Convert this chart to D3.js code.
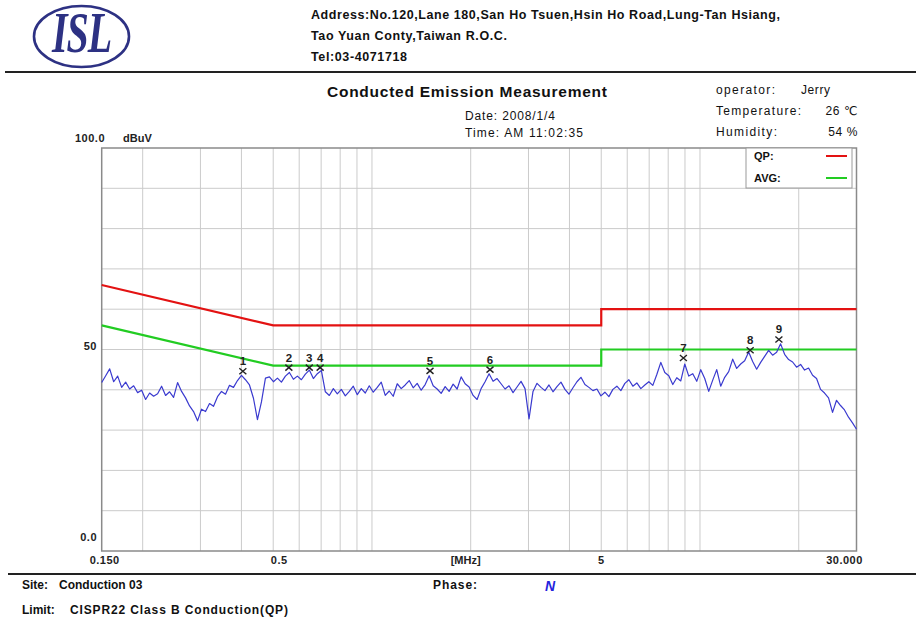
<!DOCTYPE html>
<html>
<head>
<meta charset="utf-8">
<script src="https://cdn.jsdelivr.net/npm/d3@7"></script>
<style>
  html, body { margin: 0; padding: 0; background: #fff; }
  svg { display: block; }
  text { font-family: "Liberation Sans", Arial, "DejaVu Sans", sans-serif; fill: #111; }
</style>
</head>
<body>
<svg id="chart" width="916" height="621"></svg>
<script>
// ---------------- DATA ----------------
const addressLines = [
  "Address:No.120,Lane 180,San Ho Tsuen,Hsin Ho Road,Lung-Tan Hsiang,",
  "Tao Yuan Conty,Taiwan R.O.C.",
  "Tel:03-4071718"
];
const chartTitle = "Conducted Emission Measurement";
const dateText = "Date: 2008/1/4";
const timeText = "Time: AM 11:02:35";
const infoLabels = ["operator:", "Temperature:", "Humidity:"];
const infoValues = ["Jerry", "26 \u2103", "54 %"];

const freqDomain = [0.15, 30];          // MHz
const levelDomain = [0, 100];           // dBuV
const xGridFreqs = [0.2,0.3,0.4,0.5,0.6,0.7,0.8,0.9,1,2,3,4,5,6,7,8,9,10,20];
const yGridLevels = [10,20,30,40,50,60,70,80,90];
const xTickLabels = ["0.150", "0.5", "5", "30.000"];
const xTickValues = [0.15, 0.5, 5, 30];
const yTickLabels = ["100.0", "50", "0.0"];
const yTickValues = [100, 50, 0];

// CISPR22 Class B limits (breakpoints)
const qpLimitFreq  = [0.15, 0.5, 5, 5, 30];
const qpLimitLevel = [66, 56, 56, 60, 60];
const avgLimitFreq  = [0.15, 0.5, 5, 5, 30];
const avgLimitLevel = [56, 46, 46, 50, 50];

// measured trace: 190 sweep points, log-spaced from 0.15 to 30 MHz
const traceLevels = [
  41.8,43.5,45.2,42.0,43.4,40.6,41.9,40.2,41.0,39.3,
  39.9,37.6,39.2,38.4,39.0,40.9,38.6,39.5,38.1,41.8,
  39.6,38.0,36.0,34.6,32.3,35.2,34.6,36.6,35.9,38.3,
  39.6,38.9,41.1,40.6,42.3,43.6,42.5,41.2,37.9,32.6,
  37.0,42.9,43.2,42.0,42.9,41.9,43.4,44.3,42.6,43.4,
  42.5,43.9,44.9,42.8,44.0,44.8,39.5,38.6,40.3,39.0,
  40.1,38.5,39.6,40.9,38.8,40.3,39.2,41.0,39.4,40.6,
  41.9,38.6,39.7,38.4,41.5,40.3,41.2,42.3,40.5,41.6,
  39.9,41.3,43.5,41.0,40.2,39.1,40.8,39.6,41.4,40.2,
  43.2,41.5,40.7,38.6,37.6,40.3,42.0,44.0,42.1,42.8,
  41.5,40.2,41.0,39.3,40.7,42.1,40.3,32.8,39.6,41.6,
  40.6,39.8,41.2,39.5,40.8,41.9,40.1,38.9,40.5,42.0,
  43.1,41.3,40.6,39.8,40.2,38.5,39.4,38.3,40.1,40.9,
  39.8,41.6,42.5,40.9,41.7,40.3,41.2,42.0,41.1,43.8,
  46.8,44.3,43.5,41.3,43.0,42.2,46.4,43.4,44.0,42.1,
  45.0,42.8,39.6,42.4,45.0,40.9,43.1,44.5,47.6,45.3,
  46.4,47.2,49.4,47.0,45.1,46.8,48.3,49.8,48.6,49.3,
  51.4,48.8,47.5,46.9,45.6,46.3,44.9,45.4,43.6,42.8,
  40.1,39.2,38.0,34.4,37.4,36.1,35.0,33.2,31.8,30.2
];

const markerIds    = ["1","2","3","4","5","6","7","8","9"];
const markerFreqs  = [0.404, 0.558, 0.644, 0.695, 1.503, 2.29, 8.90, 14.22, 17.4];
const markerLevels = [44.6, 45.5, 45.5, 45.5, 44.7, 45.0, 47.9, 49.8, 52.5];

const legendLabels = ["QP:", "AVG:"];
const siteText = "Conduction 03";
const phaseText = "N";
const limitText = "CISPR22 Class B Conduction(QP)";

// ---------------- DRAW ----------------
const svg = d3.select("#chart");
const plot = { left: 101.7, right: 856.5, top: 148, bottom: 551 };

const x = d3.scaleLog().domain(freqDomain).range([plot.left, plot.right]);
const y = d3.scaleLinear().domain(levelDomain).range([plot.bottom, plot.top]);

const navy = "#2d3183";

function fitText(sel, len) {
  sel.attr("textLength", len).attr("lengthAdjust", "spacing");
  return sel;
}

// Logo
const logo = svg.append("g");
logo.append("ellipse").attr("cx", 81.5).attr("cy", 36.5).attr("rx", 47.5).attr("ry", 30.5)
  .attr("fill", "none").attr("stroke", navy).attr("stroke-width", 2.6);
logo.append("text")
  .attr("transform", "translate(81.5,52) scale(1,1.45)")
  .attr("text-anchor", "middle")
  .style("font-family", "'Liberation Serif', 'DejaVu Serif', serif")
  .style("font-weight", "bold").style("font-style", "italic")
  .style("font-size", "40px").style("letter-spacing", "-1px")
  .style("fill", navy)
  .text("ISL");

// Address
const addrLens = [469, 196, 96];
svg.append("g").selectAll("text").data(addressLines).join("text")
  .attr("x", 311).attr("y", (d, i) => 19 + i * 21)
  .style("font-weight", "bold").style("font-size", "12.5px")
  .attr("textLength", (d, i) => addrLens[i]).attr("lengthAdjust", "spacing")
  .text(d => d);

// Horizontal rules
svg.append("line").attr("x1", 5).attr("x2", 916).attr("y1", 72).attr("y2", 72)
  .attr("stroke", "#222").attr("stroke-width", 2);
svg.append("line").attr("x1", 8).attr("x2", 916).attr("y1", 574).attr("y2", 574)
  .attr("stroke", "#222").attr("stroke-width", 2);

// Title & info
fitText(svg.append("text").attr("x", 327).attr("y", 97)
  .style("font-weight", "bold").style("font-size", "15.5px").text(chartTitle), 280);
fitText(svg.append("text").attr("x", 465).attr("y", 120).style("font-size", "12px").text(dateText), 90);
fitText(svg.append("text").attr("x", 465).attr("y", 137).style("font-size", "12px").text(timeText), 118);

const infoLabLens = [59, 85, 61];
const infoG = svg.append("g");
infoG.selectAll("text.lab").data(infoLabels).join("text").attr("class", "lab")
  .attr("x", 716).attr("y", (d, i) => 94 + i * 21)
  .style("font-size", "12px")
  .attr("textLength", (d, i) => infoLabLens[i]).attr("lengthAdjust", "spacing")
  .text(d => d);
infoG.selectAll("text.val").data(infoValues).join("text").attr("class", "val")
  .attr("x", (d, i) => i === 0 ? 801 : 858)
  .attr("text-anchor", (d, i) => i === 0 ? "start" : "end")
  .attr("y", (d, i) => 94 + i * 21)
  .style("font-size", "12px").style("letter-spacing", "0.6px").text(d => d);

// Grid
const grid = svg.append("g");
grid.selectAll("line.gx").data(xGridFreqs).join("line").attr("class", "gx")
  .attr("x1", d => x(d)).attr("x2", d => x(d))
  .attr("y1", plot.top).attr("y2", plot.bottom)
  .attr("stroke", "#cbcbcb").attr("stroke-width", 1);
grid.selectAll("line.gy").data(yGridLevels).join("line").attr("class", "gy")
  .attr("x1", plot.left).attr("x2", plot.right)
  .attr("y1", d => y(d)).attr("y2", d => y(d))
  .attr("stroke", "#cbcbcb").attr("stroke-width", 1);

// Border
svg.append("rect").attr("x", plot.left).attr("y", plot.top)
  .attr("width", plot.right - plot.left).attr("height", plot.bottom - plot.top)
  .attr("fill", "none").attr("stroke", "#8a8a8a").attr("stroke-width", 1.5);

// Axis labels
svg.append("g").selectAll("text").data(yTickValues).join("text")
  .attr("x", (d, i) => i === 0 ? 105 : 97)
  .attr("y", (d, i) => i === 0 ? y(d) - 6 : (i === 1 ? y(d) : y(d) - 10))
  .attr("text-anchor", "end")
  .style("font-weight", "bold").style("font-size", "11px").style("fill", "#222")
  .style("letter-spacing", "0.5px")
  .text((d, i) => yTickLabels[i]);
svg.append("text").attr("x", 123).attr("y", y(100) - 6)
  .style("font-weight", "bold").style("font-size", "11px").style("fill", "#222").text("dBuV");

const xLabDx = [3, 6, 0, -12];
svg.append("g").selectAll("text").data(xTickValues).join("text")
  .attr("x", (d, i) => x(d) + xLabDx[i])
  .attr("y", 564).attr("text-anchor", "middle")
  .style("font-weight", "bold").style("font-size", "11px").style("fill", "#222")
  .style("letter-spacing", "0.5px")
  .text((d, i) => xTickLabels[i]);
svg.append("text").attr("x", x(1.93)).attr("y", 564).attr("text-anchor", "middle")
  .style("font-weight", "bold").style("font-size", "11px").style("fill", "#222").text("[MHz]");

// Limit lines
const line = d3.line().x(d => x(d[0])).y(d => y(d[1]));
svg.append("path").datum(qpLimitFreq.map((f, i) => [f, qpLimitLevel[i]]))
  .attr("d", line).attr("fill", "none").attr("stroke", "#e31212").attr("stroke-width", 2.2);
svg.append("path").datum(avgLimitFreq.map((f, i) => [f, avgLimitLevel[i]]))
  .attr("d", line).attr("fill", "none").attr("stroke", "#22cc22").attr("stroke-width", 2.2);

// Trace
const n = traceLevels.length;
const logStart = Math.log10(freqDomain[0]), logStop = Math.log10(freqDomain[1]);
const tracePts = traceLevels.map((v, i) => [Math.pow(10, logStart + (logStop - logStart) * i / (n - 1)), v]);
svg.append("path").datum(tracePts).attr("d", line)
  .attr("fill", "none").attr("stroke", "#3a3acf").attr("stroke-width", 1.2)
  .attr("stroke-linejoin", "round");

// Markers
const mk = svg.append("g").selectAll("g").data(markerFreqs).join("g")
  .attr("transform", (d, i) => `translate(${x(d)},${y(markerLevels[i])})`);
mk.append("path").attr("d", "M-3.5,-3 L3.5,3 M-3.5,3 L3.5,-3")
  .attr("stroke", "#222").attr("stroke-width", 1.4);
mk.append("text").attr("y", -6).attr("text-anchor", "middle")
  .style("font-weight", "bold").style("font-size", "11.5px").style("fill", "#222")
  .text((d, i) => markerIds[i]);

// Legend
const lg = svg.append("g");
lg.append("rect").attr("x", 746).attr("y", plot.top).attr("width", 106).attr("height", 40)
  .attr("fill", "#fff").attr("stroke", "#9a9a9a").attr("stroke-width", 1);
const legendColors = ["#e31212", "#22cc22"];
lg.selectAll("text").data(legendLabels).join("text")
  .attr("x", 754).attr("y", (d, i) => 160 + i * 22)
  .style("font-weight", "bold").style("font-size", "11px").text(d => d);
lg.selectAll("line").data(legendColors).join("line")
  .attr("x1", 826).attr("x2", 847)
  .attr("y1", (d, i) => 156 + i * 22).attr("y2", (d, i) => 156 + i * 22)
  .attr("stroke", d => d).attr("stroke-width", 2);

// Footer
const bold12 = s => s.style("font-weight", "bold").style("font-size", "12px");
bold12(svg.append("text").attr("x", 22).attr("y", 589).text("Site:"));
bold12(svg.append("text").attr("x", 59).attr("y", 589).text(siteText));
fitText(bold12(svg.append("text").attr("x", 433).attr("y", 589).text("Phase:")), 44);
svg.append("text").attr("x", 545).attr("y", 591).style("font-weight", "bold").style("font-style", "italic")
  .style("font-size", "14px").style("fill", "#2323dd").text(phaseText);
bold12(svg.append("text").attr("x", 22).attr("y", 614).text("Limit:"));
fitText(bold12(svg.append("text").attr("x", 70).attr("y", 614).text(limitText)), 218);
</script>
</body>
</html>
